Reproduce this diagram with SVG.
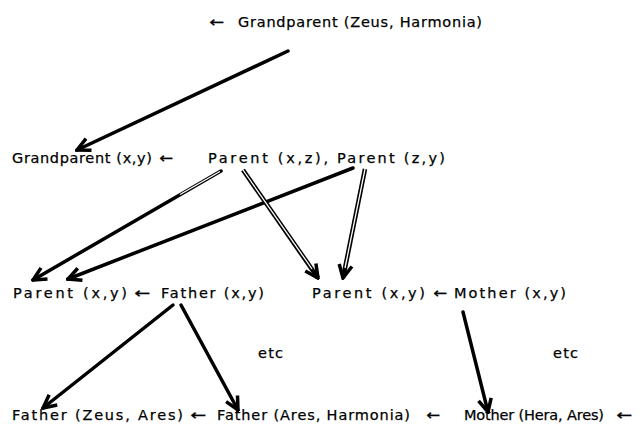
<svg xmlns="http://www.w3.org/2000/svg" width="642" height="433" viewBox="0 0 642 433">
<style>
text{font-family:"DejaVu Sans","Liberation Sans",sans-serif;font-size:14.5px;fill:#000;stroke:#000;stroke-width:0.25}
.s{stroke:#000;stroke-width:3.5;fill:none;stroke-linecap:round}
.d{stroke:#000;stroke-width:4.5;fill:none}
.w{stroke:#fff;stroke-width:1.3;fill:none}
</style>
<defs>
<marker id="ah" viewBox="-16 -9 18 18" markerWidth="18" markerHeight="18" refX="0" refY="0" orient="auto" markerUnits="userSpaceOnUse">
<path d="M-13,-6.5 L0,0 L-13,6.5" fill="none" stroke="#000" stroke-width="3.5" stroke-linejoin="miter"/>
</marker>
</defs>
<rect width="642" height="433" fill="#fff"/>
<g id="connectors">
<line class="s" x1="288" y1="51" x2="77" y2="150" marker-end="url(#ah)"/>
<line class="s" x1="221" y1="171" x2="33" y2="280" marker-end="url(#ah)"/>
<line class="w" x1="220" y1="171.5" x2="180" y2="194.5"/>
<line class="s" x1="353" y1="168" x2="68" y2="279" marker-end="url(#ah)"/>
<line class="d" x1="243" y1="170" x2="318" y2="278" marker-end="url(#ah)"/>
<line class="w" x1="243" y1="170" x2="312" y2="269"/>
<line class="d" x1="365" y1="169" x2="343" y2="278" marker-end="url(#ah)"/>
<line class="w" x1="365" y1="169" x2="345" y2="268"/>
<line class="s" x1="173" y1="305" x2="43" y2="408" marker-end="url(#ah)"/>
<line class="s" x1="181" y1="305" x2="238" y2="410" marker-end="url(#ah)"/>
<line class="s" x1="463" y1="312" x2="488" y2="412" marker-end="url(#ah)"/>
</g>
<g id="n-top">
<text x="209" y="27" textLength="15" lengthAdjust="spacingAndGlyphs">←</text>
<text x="238" y="27" textLength="244" lengthAdjust="spacing">Grandparent (Zeus, Harmonia)</text>
</g>
<g id="n-rule">
<text x="12" y="163" textLength="140" lengthAdjust="spacing">Grandparent (x,y)</text>
<text x="159" y="163" textLength="14" lengthAdjust="spacingAndGlyphs">←</text>
<text x="208" y="163" textLength="120" lengthAdjust="spacing">Parent (x,z),</text>
<text x="337" y="163" textLength="108" lengthAdjust="spacing">Parent (z,y)</text>
</g>
<g id="n-father-rule">
<text x="13" y="298" textLength="114" lengthAdjust="spacing">Parent (x,y)</text>
<text x="134" y="298" textLength="16" lengthAdjust="spacingAndGlyphs">←</text>
<text x="161" y="298" textLength="103" lengthAdjust="spacing">Father (x,y)</text>
</g>
<g id="n-mother-rule">
<text x="312" y="298" textLength="113" lengthAdjust="spacing">Parent (x,y)</text>
<text x="433" y="298" textLength="14" lengthAdjust="spacingAndGlyphs">←</text>
<text x="454" y="298" textLength="112" lengthAdjust="spacing">Mother (x,y)</text>
</g>
<g id="n-etc1"><text x="258" y="358" textLength="25" lengthAdjust="spacing">etc</text></g>
<g id="n-etc2"><text x="553" y="358" textLength="25" lengthAdjust="spacing">etc</text></g>
<g id="n-facts">
<text x="12" y="420" textLength="171" lengthAdjust="spacing">Father (Zeus, Ares)</text>
<text x="190" y="420" textLength="16" lengthAdjust="spacingAndGlyphs">←</text>
<text x="217" y="420" textLength="193" lengthAdjust="spacing">Father (Ares, Harmonia)</text>
<text x="426" y="420" textLength="14" lengthAdjust="spacingAndGlyphs">←</text>
<text x="464" y="420" textLength="140" lengthAdjust="spacing">Mother (Hera, Ares)</text>
<text x="616" y="420" textLength="16" lengthAdjust="spacingAndGlyphs">←</text>
</g>
</svg>
